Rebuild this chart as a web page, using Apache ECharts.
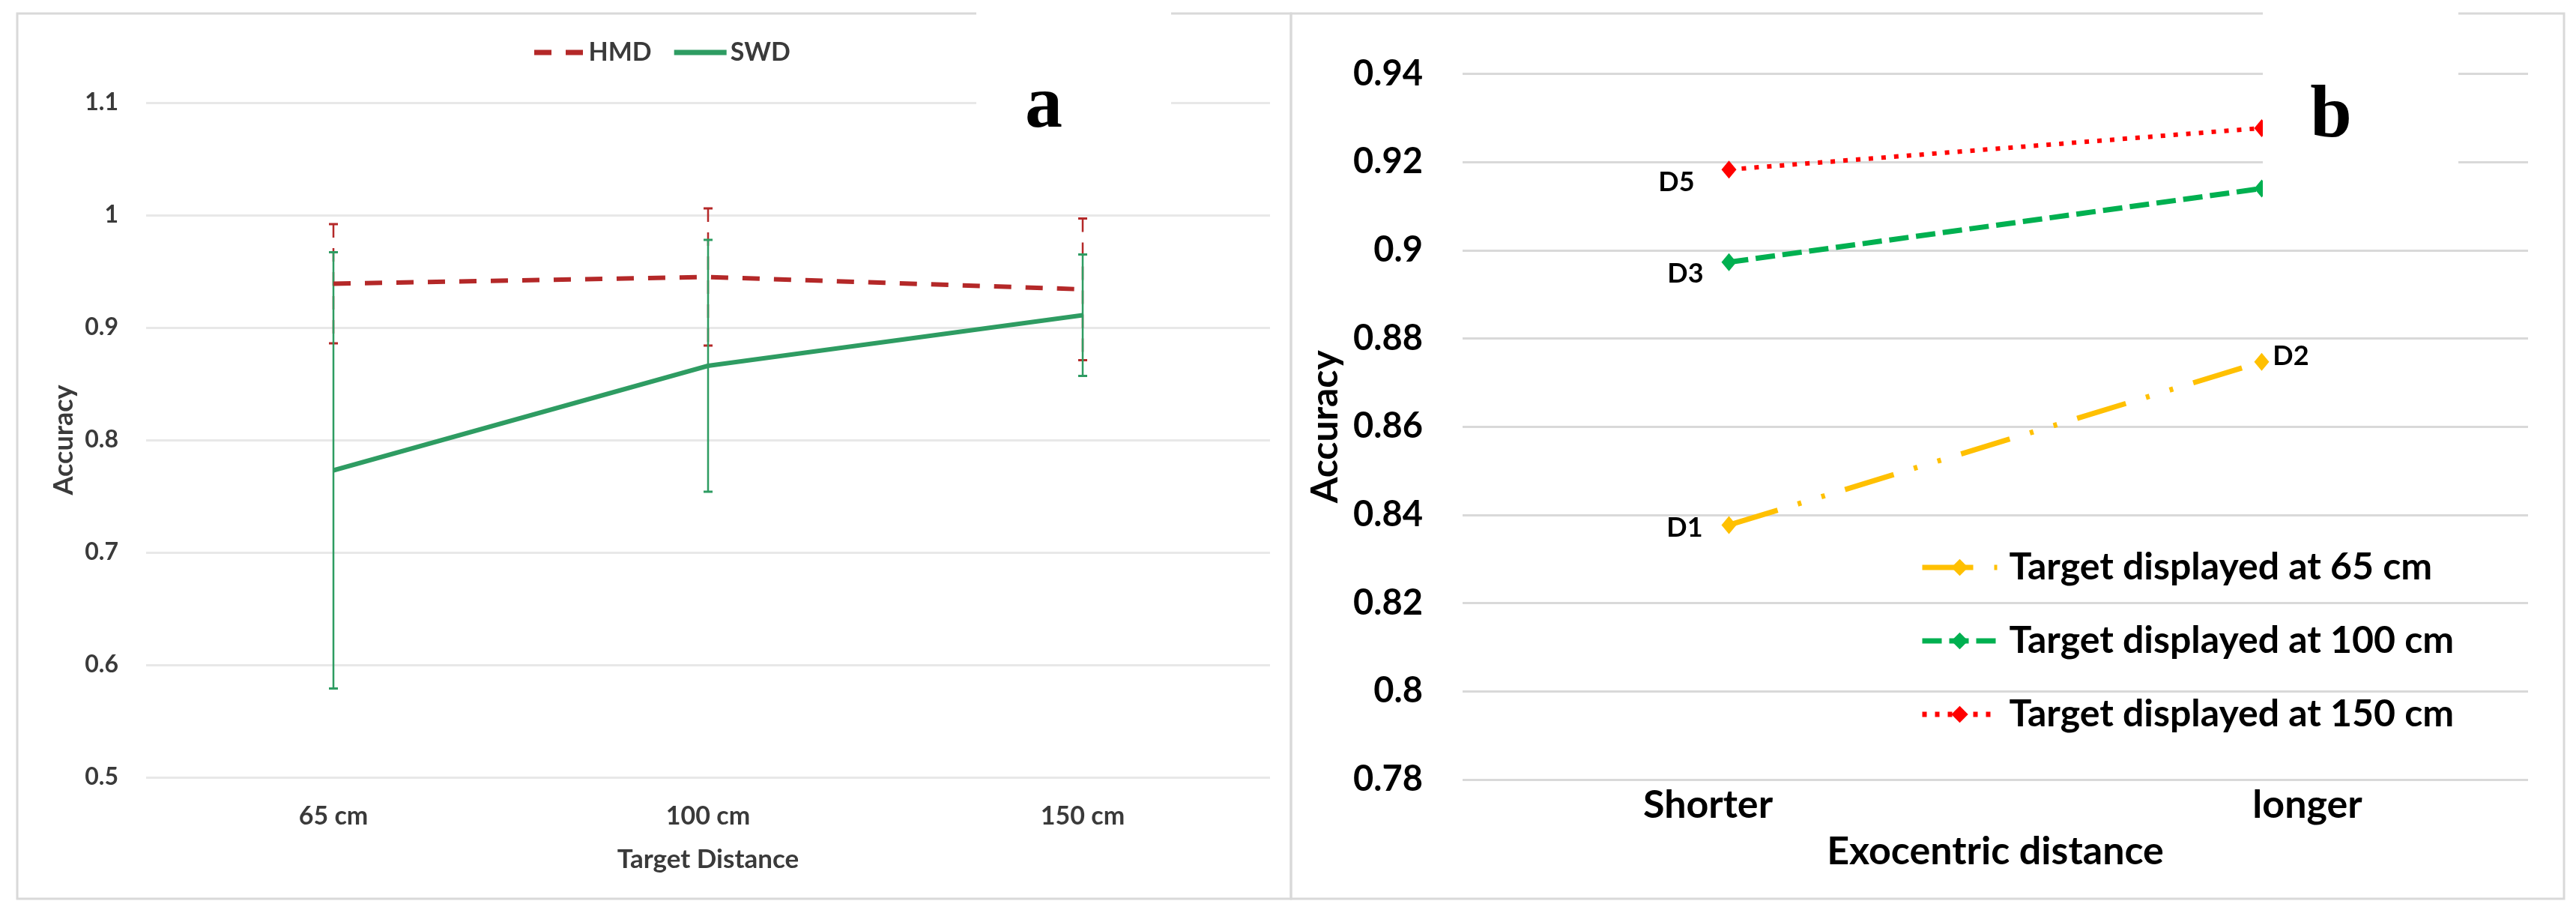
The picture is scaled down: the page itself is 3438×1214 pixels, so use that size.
<!DOCTYPE html>
<html>
<head>
<meta charset="utf-8">
<script src="https://cdn.jsdelivr.net/npm/echarts@6/dist/echarts.min.js"></script>
<style>
  html, body { margin: 0; padding: 0; background: #ffffff; }
  #chart { width: 3438px; height: 1214px; }
</style>
</head>
<body>
<div id="chart"></div>
<script>
// ---------- Panel a data ----------
const aCategories = ['65 cm', '100 cm', '150 cm'];
const hmdMean = [0.939, 0.945, 0.934];
const hmdErr  = [0.053, 0.061, 0.063];
const swdMean = [0.773, 0.866, 0.911];
const swdErr  = [0.194, 0.112, 0.054];

// ---------- Panel b data ----------
const bCategories = ['Shorter', 'longer'];
const target65  = [0.8377, 0.8747];
const target100 = [0.8973, 0.9140];
const target150 = [0.9183, 0.9277];
const labels65  = ['D1', 'D2'];
const labels100 = ['D3', ''];
const labels150 = ['D5', ''];

const FONT = 'Lato';
const AC = '#3a3a3a';
const HMD_COLOR = '#B42828';
const SWD_COLOR = '#2E9C62';

function errData(mean, err) {
  return mean.map((m, i) => [i, m - err[i], m + err[i]]);
}

function errRender(color, dash) {
  return function (params, api) {
    const x = api.value(0), lo = api.value(1), hi = api.value(2);
    const t = api.coord([x, hi]);
    const b = api.coord([x, lo]);
    const hw = 6;
    return {
      type: 'group',
      children: [
        { type: 'line', shape: { x1: t[0], y1: t[1], x2: b[0], y2: b[1] },
          style: { stroke: color, lineWidth: 2.5, lineDash: dash } },
        { type: 'line', shape: { x1: t[0] - hw, y1: t[1], x2: t[0] + hw, y2: t[1] },
          style: { stroke: color, lineWidth: 3 } },
        { type: 'line', shape: { x1: b[0] - hw, y1: b[1], x2: b[0] + hw, y2: b[1] },
          style: { stroke: color, lineWidth: 3 } }
      ]
    };
  };
}

function numFmt(v) { return String(+v.toFixed(2)); }

// label placement styles for panel b
function labelled(values, names, offsets) {
  return values.map((v, i) => {
    if (!names[i]) return v;
    return {
      value: v,
      label: {
        show: true, formatter: names[i], position: 'inside',
        offset: offsets[i], color: '#000', fontFamily: FONT, fontWeight: 'bold', fontSize: 36
      }
    };
  });
}

const chart = echarts.init(document.getElementById('chart'), null, { renderer: 'canvas' });

const option = {
  animation: false,
  backgroundColor: '#ffffff',
  textStyle: { fontFamily: FONT },
  grid: [
    { left: 195, top: 137, width: 1500, height: 900, containLabel: false },
    { left: 1952, top: 98.5, width: 1422, height: 941.5, containLabel: false }
  ],
  xAxis: [
    {
      type: 'category', gridIndex: 0, data: aCategories, boundaryGap: true,
      axisLine: { show: false }, axisTick: { show: false },
      axisLabel: { margin: 35, color: AC, fontFamily: FONT, fontWeight: 'bold', fontSize: 34 },
      name: 'Target Distance', nameLocation: 'middle', nameGap: 92,
      nameTextStyle: { color: AC, fontFamily: FONT, fontWeight: 'bold', fontSize: 35 }
    },
    {
      type: 'category', gridIndex: 1, data: bCategories, boundaryGap: true,
      axisLine: { show: false }, axisTick: { show: false },
      axisLabel: {
        margin: 8,
        formatter: function (v) { return v === 'Shorter' ? '{s|' + v + '}' : '{l|' + v + '}'; },
        rich: {
          s: { color: '#000', fontFamily: FONT, fontWeight: 'bold', fontSize: 52, padding: [0, 56, 0, 0] },
          l: { color: '#000', fontFamily: FONT, fontWeight: 'bold', fontSize: 52, padding: [0, 0, 0, 122] }
        }
      },
      name: 'Exocentric distance', nameLocation: 'middle', nameGap: 70,
      nameTextStyle: { color: '#000', fontFamily: FONT, fontWeight: 'bold', fontSize: 52 }
    }
  ],
  yAxis: [
    {
      type: 'value', gridIndex: 0, min: 0.5, max: 1.1, interval: 0.1,
      axisLine: { show: false }, axisTick: { show: false },
      axisLabel: { margin: 37, formatter: numFmt, color: AC, fontFamily: FONT, fontWeight: 'bold', fontSize: 32 },
      splitLine: { lineStyle: { color: '#E8E8E8', width: 3 } },
      name: 'Accuracy', nameLocation: 'middle', nameRotate: 90, nameGap: 92,
      nameTextStyle: { color: AC, fontFamily: FONT, fontWeight: 'bold', fontSize: 36 }
    },
    {
      type: 'value', gridIndex: 1, min: 0.78, max: 0.94, interval: 0.02,
      axisLine: { show: false }, axisTick: { show: false },
      axisLabel: { margin: 53, formatter: numFmt, color: '#000', fontFamily: FONT, fontWeight: 'bold', fontSize: 47 },
      splitLine: { lineStyle: { color: '#D9D9D9', width: 3 } },
      name: 'Accuracy', nameLocation: 'middle', nameRotate: 90, nameGap: 158,
      nameTextStyle: { color: '#000', fontFamily: FONT, fontWeight: 'bold', fontSize: 50 }
    }
  ],
  legend: [
    {
      data: [
        { name: 'HMD', icon: 'path://M0,0H23V7H0Z M42,0H65V7H42Z' },
        { name: 'SWD', icon: 'rect' }
      ],
      left: 708, top: 48, orient: 'horizontal',
      itemWidth: 70, itemHeight: 7, itemGap: 30,
      textStyle: { color: AC, fontFamily: FONT, fontWeight: 'bold', fontSize: 34 }
    },
    {
      data: ['Target displayed at 65 cm', 'Target displayed at 100 cm', 'Target displayed at 150 cm'],
      left: 2557, top: 727, orient: 'vertical',
      itemWidth: 100, itemHeight: 28, itemGap: 48,
      lineStyle: { width: 7 },
      textStyle: { color: '#000', fontFamily: FONT, fontWeight: 'bold', fontSize: 50, padding: [0, 0, 0, 11] }
    }
  ],
  series: [
    {
      name: 'HMD err', type: 'custom', xAxisIndex: 0, yAxisIndex: 0, z: 2,
      renderItem: errRender(HMD_COLOR, [18, 14]),
      encode: { x: 0, y: [1, 2] }, data: errData(hmdMean, hmdErr)
    },
    {
      name: 'SWD err', type: 'custom', xAxisIndex: 0, yAxisIndex: 0, z: 3,
      renderItem: errRender(SWD_COLOR, null),
      encode: { x: 0, y: [1, 2] }, data: errData(swdMean, swdErr)
    },
    {
      name: 'SWD', type: 'line', xAxisIndex: 0, yAxisIndex: 0, z: 4,
      data: swdMean, symbol: 'none', color: SWD_COLOR,
      itemStyle: { color: SWD_COLOR },
      lineStyle: { color: SWD_COLOR, width: 6 }
    },
    {
      name: 'HMD', type: 'line', xAxisIndex: 0, yAxisIndex: 0, z: 5,
      data: hmdMean, symbol: 'none', color: HMD_COLOR,
      itemStyle: { color: HMD_COLOR },
      lineStyle: { color: HMD_COLOR, width: 6, type: [23, 19] }
    },
    {
      name: 'Target displayed at 65 cm', type: 'line', xAxisIndex: 1, yAxisIndex: 1, z: 4,
      data: labelled(target65, labels65, [[-59, 4], [39, -7]]),
      symbol: 'diamond', symbolSize: [20, 24], color: '#FFC000',
      itemStyle: { color: '#FFC000' },
      lineStyle: { color: '#FFC000', width: 7, type: [68, 28, 5, 28, 5, 28] }
    },
    {
      name: 'Target displayed at 100 cm', type: 'line', xAxisIndex: 1, yAxisIndex: 1, z: 4,
      data: labelled(target100, labels100, [[-58, 16], [0, 0]]),
      symbol: 'diamond', symbolSize: [20, 24], color: '#00B050',
      itemStyle: { color: '#00B050' },
      lineStyle: { color: '#00B050', width: 7, type: [26, 10] }
    },
    {
      name: 'Target displayed at 150 cm', type: 'line', xAxisIndex: 1, yAxisIndex: 1, z: 4,
      data: labelled(target150, labels150, [[-70, 17], [0, 0]]),
      symbol: 'diamond', symbolSize: [20, 24], color: '#FF0000',
      itemStyle: { color: '#FF0000' },
      lineStyle: { color: '#FF0000', width: 6, type: [6, 11] }
    }
  ],
  graphic: [
    { type: 'rect', z: 0, silent: true, shape: { x: 23, y: 18, width: 1700, height: 1181 },
      style: { fill: 'none', stroke: '#D9D9D9', lineWidth: 3 } },
    { type: 'rect', z: 0, silent: true, shape: { x: 1723, y: 18, width: 1699, height: 1181 },
      style: { fill: 'none', stroke: '#D9D9D9', lineWidth: 3 } },
    { type: 'rect', z: 100, silent: true, shape: { x: 1303, y: 0, width: 260, height: 225 },
      style: { fill: '#ffffff' } },
    { type: 'rect', z: 100, silent: true, shape: { x: 3020, y: 0, width: 261, height: 300 },
      style: { fill: '#ffffff' } },
    { type: 'text', z: 101, silent: true, x: 1393, y: 143,
      style: { text: 'a', font: 'bold 100px "Liberation Serif", "Times New Roman", serif',
               fill: '#000', align: 'center', verticalAlign: 'middle' } },
    { type: 'text', z: 101, silent: true, x: 3111, y: 156,
      style: { text: 'b', font: 'bold 100px "Liberation Serif", "Times New Roman", serif',
               fill: '#000', align: 'center', verticalAlign: 'middle' } }
  ]
};

chart.setOption(option);
</script>
</body>
</html>
